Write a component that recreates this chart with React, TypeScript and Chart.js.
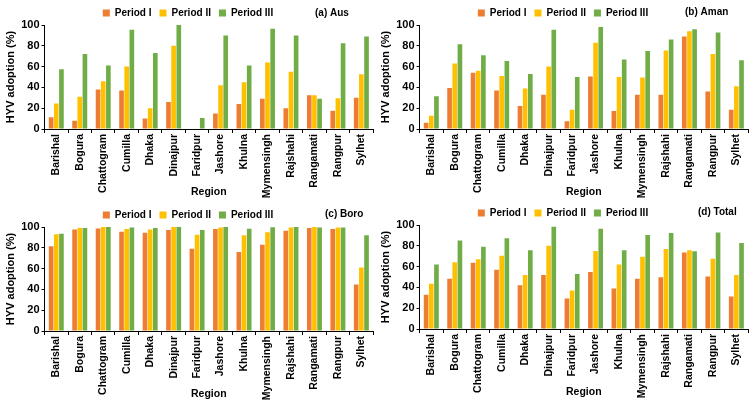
import React, { useEffect, useRef } from "react";
import { Chart, registerables } from "chart.js";

Chart.register(...registerables);

const regions = [
  "Barishal", "Bogura", "Chattogram", "Cumilla", "Dhaka", "Dinajpur", "Faridpur",
  "Jashore", "Khulna", "Mymensingh", "Rajshahi", "Rangamati", "Rangpur", "Sylhet",
];
const periodNames = ["Period I", "Period II", "Period III"];
const yTicks = [0, 20, 40, 60, 80, 100];

const ausP1 = [11.4, 8, 38, 37, 10, 26, 0, 15, 24, 29, 20, 32.5, 17.5, 30];
const ausP2 = [24.4, 31, 46, 60, 20, 80, 0, 42, 45, 64, 55, 32.5, 29.5, 52.7];
const ausP3 = [57.5, 72, 61, 95.5, 73, 100, 10.5, 90, 61, 96.5, 90, 29, 82.5, 89];

const amanP1 = [6, 39.5, 54, 37, 22, 33, 7.5, 50.6, 17.4, 33, 33, 89, 36, 18.4];
const amanP2 = [12.7, 63, 56, 51, 39, 60, 18.4, 83, 50, 49.4, 75.6, 94, 72, 41];
const amanP3 = [31.6, 81.6, 71, 65.5, 53, 95.5, 50, 98, 66.8, 75, 86, 96, 92.7, 66];

const boroP1 = [81.5, 97.5, 98.5, 95.5, 94.5, 97, 79, 98, 76, 83, 96.5, 99, 98, 44.7];
const boroP2 = [93, 99, 100, 98, 97.5, 100, 92.6, 99.5, 92, 95, 99.5, 100, 99.5, 61];
const boroP3 = [93.6, 99, 100, 99.5, 99, 100, 97, 100, 98.4, 99.7, 100, 99.5, 99.5, 92];

const totalP1 = [33, 48.4, 63.7, 57, 42, 52, 29.3, 54.8, 39, 48.4, 49.7, 73.6, 50.6, 31.2];
const totalP2 = [43.5, 64.3, 67, 70.4, 52, 80, 37, 75, 62, 69.4, 77, 75.8, 67.5, 52];
const totalP3 = [62, 85, 79, 87.3, 75.8, 98.4, 53, 96.5, 75.8, 90.4, 92.4, 74.8, 92.7, 82.8];

const colors = ["#ED7D31", "#FFC000", "#70AD47"];
const FONT = "'Liberation Sans', Arial, sans-serif";

type PanelProps = {
  label: string;
  labelX: number;
  labelY: number;
  p1: number[];
  p2: number[];
  p3: number[];
  left: number;
  top: number;
  width: number;
  height: number;
};

function Panel({ label, labelX, labelY, p1, p2, p3, left, top, width, height }: PanelProps) {
  const ref = useRef<HTMLCanvasElement | null>(null);
  useEffect(() => {
    if (!ref.current) return;
    const series = [p1, p2, p3];
    const labelPlugin = {
      id: "panelLabel",
      beforeUpdate(chart: any) {
        const lg = chart.legend;
        if (lg && !lg._trimmed) {
          const orig = lg.fit.bind(lg);
          lg.fit = () => {
            orig();
            lg.height = Math.max(0, lg.height - 3);
          };
          lg._trimmed = true;
        }
      },
      afterDraw(chart: any) {
        const ctx = chart.ctx;
        ctx.save();
        ctx.fillStyle = "#000";
        ctx.font = `bold 10px ${FONT}`;
        ctx.textBaseline = "middle";
        ctx.textAlign = "left";
        ctx.fillText(label, labelX, labelY);
        ctx.restore();
      },
    };
    const chart = new Chart(ref.current, {
      type: "bar",
      data: {
        labels: regions,
        datasets: series.map((d, i) => ({
          label: periodNames[i],
          data: d,
          backgroundColor: colors[i],
          borderWidth: 0,
          categoryPercentage: 0.66,
          barPercentage: 0.9,
        })),
      },
      options: {
        responsive: false,
        animation: false,
        devicePixelRatio: 1,
        layout: { padding: { top: 0, right: 1, left: 2, bottom: 2 } },
        plugins: {
          legend: {
            position: "top",
            labels: {
              boxWidth: 7,
              boxHeight: 7,
              padding: 8,
              color: "#000",
              font: { family: FONT, weight: "bold", size: 10 },
            },
          },
          tooltip: { enabled: false },
        },
        scales: {
          x: {
            afterFit: (scale: any) => {
              scale.height = 69;
            },
            grid: { display: true, drawOnChartArea: false, drawTicks: true, tickLength: 4, color: "#000" },
            border: { color: "#000" },
            ticks: {
              color: "#000",
              font: { family: FONT, weight: "bold", size: 10.5 },
              maxRotation: 90,
              minRotation: 90,
              autoSkip: false,
              padding: 1,
            },
            title: {
              display: true,
              text: "Region",
              color: "#000",
              font: { family: FONT, weight: "bold", size: 10.5 },
              padding: { top: 0, bottom: 0 },
            },
          },
          y: {
            min: 0,
            max: 100,
            afterBuildTicks: (axis: any) => {
              axis.ticks = yTicks.map((v) => ({ value: v }));
            },
            grid: { display: true, drawOnChartArea: false, drawTicks: true, tickLength: 3, color: "#000" },
            border: { color: "#000" },
            ticks: {
              color: "#000",
              font: { family: FONT, weight: "bold", size: 11 },
              padding: 2,
            },
            title: {
              display: true,
              text: "HYV adoption (%)",
              color: "#000",
              font: { family: FONT, weight: "bold", size: 11 },
              padding: { top: 2, bottom: 2 },
            },
          },
        },
      } as any,
      plugins: [labelPlugin],
    });
    return () => chart.destroy();
  }, []);
  return (
    <canvas
      ref={ref}
      width={width}
      height={height}
      style={{ position: "absolute", left, top, width, height }}
    />
  );
}

export default function App() {
  return (
    <div
      style={{
        position: "fixed",
        left: 0,
        top: 0,
        width: 750,
        height: 405,
        background: "#fff",
        overflow: "hidden",
      }}
    >
      <Panel label="(a) Aus" labelX={315} labelY={13} p1={ausP1} p2={ausP2} p3={ausP3} left={0} top={0} width={375} height={200} />
      <Panel label="(b) Aman" labelX={310} labelY={12} p1={amanP1} p2={amanP2} p3={amanP3} left={375} top={0} width={375} height={200} />
      <Panel label="(c) Boro" labelX={325} labelY={12} p1={boroP1} p2={boroP2} p3={boroP3} left={0} top={202} width={375} height={200} />
      <Panel label="(d) Total" labelX={323} labelY={12} p1={totalP1} p2={totalP2} p3={totalP3} left={375} top={200} width={375} height={200} />
    </div>
  );
}
